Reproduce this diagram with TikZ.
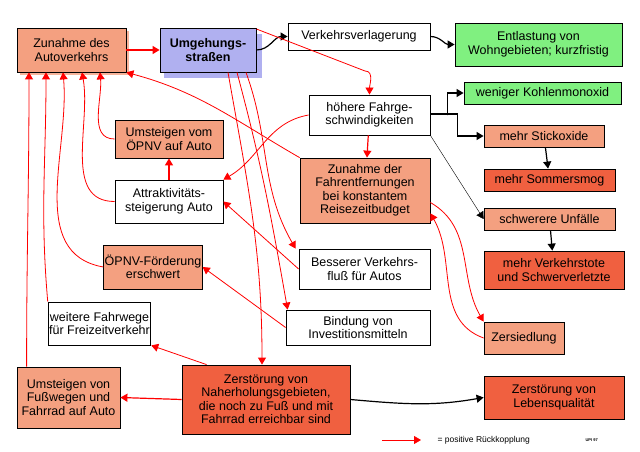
\documentclass[tikz,border=0pt]{standalone}
\usepackage{fontspec}
\setmainfont{Liberation Sans}
\usetikzlibrary{arrows.meta}
\definecolor{sal}{HTML}{F4A080}
\definecolor{ror}{HTML}{F06040}
\definecolor{grn}{HTML}{80F080}
\definecolor{blu}{HTML}{B0B0F0}
\tikzset{
 bx/.style={draw,thick,align=center,inner sep=1pt,font=\fontsize{12.5}{13.5}\selectfont},
 red/.style={bx,fill=sal}, rr/.style={bx,fill=ror}, gg/.style={bx,fill=grn}, ww/.style={bx,fill=white},
 ra/.style={draw=red,very thick,-{Triangle[length=7pt,width=8pt]}},
 rt/.style={draw=red,thick,-{Triangle[length=7pt,width=8pt]}},
 ba/.style={draw=black,very thick,-{Triangle[length=7pt,width=8pt]}},
}
\begin{document}
\begin{tikzpicture}[x=1pt,y=-1pt]
\useasboundingbox (0,0) rectangle (640,452);
\fill[sal!80] (20,31) rectangle (129,75);
\fill[blu] (164,34) rectangle (262,78);
\node[red,minimum width=109,minimum height=44] (A) at (71.5,50) {Zunahme des\\Autoverkehrs};
\node[bx,fill=blu,minimum width=96,minimum height=44,font=\fontsize{12.5}{13.5}\selectfont\bfseries] (U) at (208,50) {Umgehungs-\\straßen};
\node[ww,minimum width=142,minimum height=27] (V) at (359,36.5) {Verkehrsverlagerung};
\node[gg,minimum width=167,minimum height=43] (E) at (538.5,44.5) {Entlastung von\\Wohngebieten; kurzfristig};
\node[ww,minimum width=121,minimum height=40] (H) at (369.5,115) {höhere Fahrge-\\schwindigkeiten};
\node[gg,minimum width=157,minimum height=22] (K) at (542.5,93) {weniger Kohlenmonoxid};
\node[red,minimum width=120,minimum height=22] (S) at (544,136) {mehr Stickoxide};
\node[rr,minimum width=131,minimum height=22] (SM) at (549.5,180) {mehr Sommersmog};
\node[red,minimum width=131,minimum height=22] (SU) at (549.5,219) {schwerere Unfälle};
\node[rr,minimum width=140,minimum height=38] (VT) at (554,270) {mehr Verkehrstote\\und Schwerverletzte};
\node[red,minimum width=80,minimum height=32] (Z) at (524,338) {Zersiedlung};
\node[rr,minimum width=140,minimum height=43] (ZL) at (554,397.5) {Zerstörung von\\Lebensqualität};
\node[red,minimum width=130,minimum height=65] (F) at (365,190.5) {Zunahme der\\Fahrentfernungen\\bei konstantem\\Reisezeitbudget};
\node[red,minimum width=108,minimum height=38] (UO) at (169,139) {Umsteigen vom\\ÖPNV auf Auto};
\node[ww,minimum width=108,minimum height=43] (AT) at (169,201.5) {Attraktivitäts-\\steigerung Auto};
\node[red,minimum width=80,minimum height=44] (OF) at (153,267) {ÖPNV-Förderung\\erschwert};
\node[ww,minimum width=131,minimum height=40] (BV) at (364.5,269) {Besserer Verkehrs-\\fluß für Autos};
\node[ww,minimum width=144,minimum height=35] (BI) at (358,327.5) {Bindung von\\Investitionsmitteln};
\node[ww,minimum width=99,minimum height=43] (WF) at (99.5,323.5) {weitere Fahrwege\\für Freizeitverkehr};
\node[red,minimum width=103,minimum height=61] (UF) at (68.5,397.5) {Umsteigen von\\Fußwegen und\\Fahrrad auf Auto};
\node[rr,minimum width=168,minimum height=69] (ZN) at (266,399.5) {Zerstörung von\\Naherholungsgebieten,\\die noch zu Fuß und mit\\Fahrrad erreichbar sind};
% legend
\coordinate (L1) at (382,440); \coordinate (L2) at (421,440);
\draw[rt] (L1) -- (L2);
\node[anchor=west,font=\fontsize{8.5}{9}\selectfont] (LT) at (434,440) {= positive Rückkopplung};
\node[anchor=west,font=\fontsize{4}{5}\selectfont\bfseries] (UP) at (582,440) {UPI 97};
% black
\draw[ba] (U.east) to[out=0,in=180] (V.west);
\draw[ba] (V.east) to[out=0,in=180] (E.west);
\draw[ba] ([yshift=1]H.east) -| ([xshift=-16]K.west|-H.east) |- (K.west);
\draw[ba] ([yshift=1]H.east) -| ([xshift=-26]S.west|-H.east) |- (S.west);
\draw[ba] (S) -- (SM);
\draw[black,thin,-{Triangle[length=7pt,width=8pt]}] (H.south east) -- (SU.west);
\draw[ba] (SU) -- (VT);
\draw[ba] (ZN.east) to[out=-5,in=190] (ZL.west);
% red
\draw[ra] (A) -- (U);
\draw[rt] ([yshift=21]U.east) -- (365,71) to[out=0,in=90] (H.north);
\draw[ra] (H) -- (F);
\draw[rt] (H.west) to[out=190,in=30] (AT.north east);
\draw[rt] (F.north west) to[out=150,in=-15] (A.south east);
\draw[ra] (AT) -- (UO);
\draw[rt] (UO.west) to[out=180,in=-85] (A.south-|100,0);
\draw[rt] (AT.west) to[out=180,in=-80] (A.south-|82,0);
\draw[rt] (OF.west) to[out=170,in=-85] (A.south-|63,0);
\draw[rt] (WF.north west) to[out=95,in=-90] (A.south-|46,0);
\draw[rt] ([xshift=10]UF.north west) to[out=90,in=-90] (A.south-|29,0);
\draw[rt] (BV.west) -- (AT.east);
\draw[rt] (BI.west) -- (OF.east);
\draw[rt] (ZN.north west) ++(25,0) -- (WF.south east);
\draw[ra] (ZN.west) -- (UF.east);
\draw[rt] ([xshift=20]U.south) to[out=-80,in=90] ([xshift=-4]ZN.north);
\draw[rt] ([xshift=29]U.south) to[out=-75,in=100] ([xshift=2]BI.north west);
\draw[rt] ([xshift=38]U.south) to[out=-70,in=120] ([xshift=-3]BV.north west);
\draw[rt] ([yshift=-12]F.east) to[out=-30,in=120] (Z.north west);
\draw[rt] (Z.west) to[out=160,in=-60] ([yshift=10]F.south east);
\end{tikzpicture}
\end{document}
